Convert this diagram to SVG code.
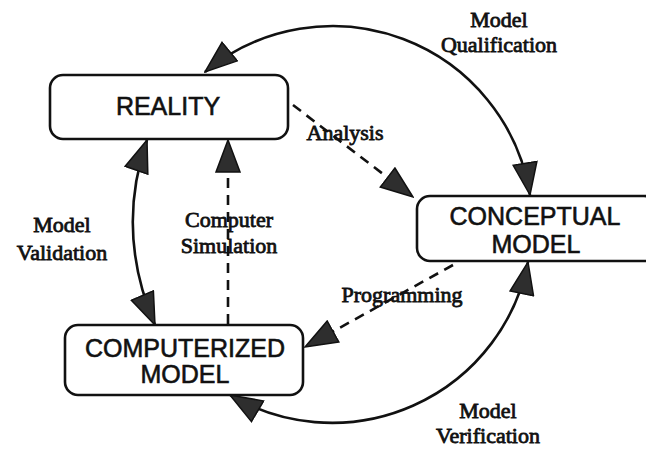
<svg xmlns="http://www.w3.org/2000/svg" width="646" height="450" viewBox="0 0 646 450">
<style>
.box{fill:#fff;stroke:#111;stroke-width:2.6}
.bt{font-family:"Liberation Sans",Arial,sans-serif;font-size:25px;fill:#111;stroke:#111;stroke-width:0.6;text-anchor:middle}
.lb{font-family:"Liberation Serif","Times New Roman",serif;font-size:22px;fill:#111;stroke:#111;stroke-width:0.8;text-anchor:middle}
.arc{fill:none;stroke:#111;stroke-width:2.6;marker-start:url(#ah);marker-end:url(#ah)}
.dash{fill:none;stroke:#111;stroke-width:2.6;stroke-dasharray:10 7;marker-end:url(#ah)}
</style>
<defs>
<marker id="ah" markerUnits="userSpaceOnUse" viewBox="0 0 34 26" refX="33" refY="13" markerWidth="34" markerHeight="26" orient="auto-start-reverse">
<path d="M1,1 L33,13 L1,25 Z" fill="#2e2e2e" stroke="#111" stroke-width="1.5" stroke-dasharray="none"/>
</marker>
</defs>
<rect width="646" height="450" fill="#fff"/>
<g id="connectors">
<path id="qualification" class="arc" d="M205,72 A200,200 0 0 1 530,195"/>
<path id="verification" class="arc" d="M230,395 A200,200 0 0 0 528,262"/>
<path id="validation" class="arc" d="M147,140 Q115,232 155,325"/>
<path id="analysis" class="dash" d="M293,105 L413,197"/>
<path id="programming" class="dash" d="M453,265 L305,347"/>
<path id="simulation" class="dash" d="M228,324 L228,140"/>
</g>
<g id="reality">
<rect class="box" x="50" y="75" width="238" height="64" rx="13"/>
<text class="bt" x="168" y="115">REALITY</text>
</g>
<g id="conceptual">
<rect class="box" x="417" y="196" width="240" height="65" rx="13"/>
<text class="bt" x="535" y="225">CONCEPTUAL</text>
<text class="bt" x="536" y="253">MODEL</text>
</g>
<g id="computerized">
<rect class="box" x="65" y="325" width="238" height="70" rx="13"/>
<text class="bt" x="185" y="357">COMPUTERIZED</text>
<text class="bt" x="185" y="383">MODEL</text>
</g>
<g id="labels">
<text class="lb" x="499" y="27">Model</text>
<text class="lb" x="499" y="52">Qualification</text>
<text class="lb" x="345" y="140">Analysis</text>
<text class="lb" x="62" y="232">Model</text>
<text class="lb" x="62" y="260">Validation</text>
<text class="lb" x="229" y="227">Computer</text>
<text class="lb" x="229" y="253">Simulation</text>
<text class="lb" x="402" y="302">Programming</text>
<text class="lb" x="488" y="418">Model</text>
<text class="lb" x="488" y="443">Verification</text>
</g>
</svg>
